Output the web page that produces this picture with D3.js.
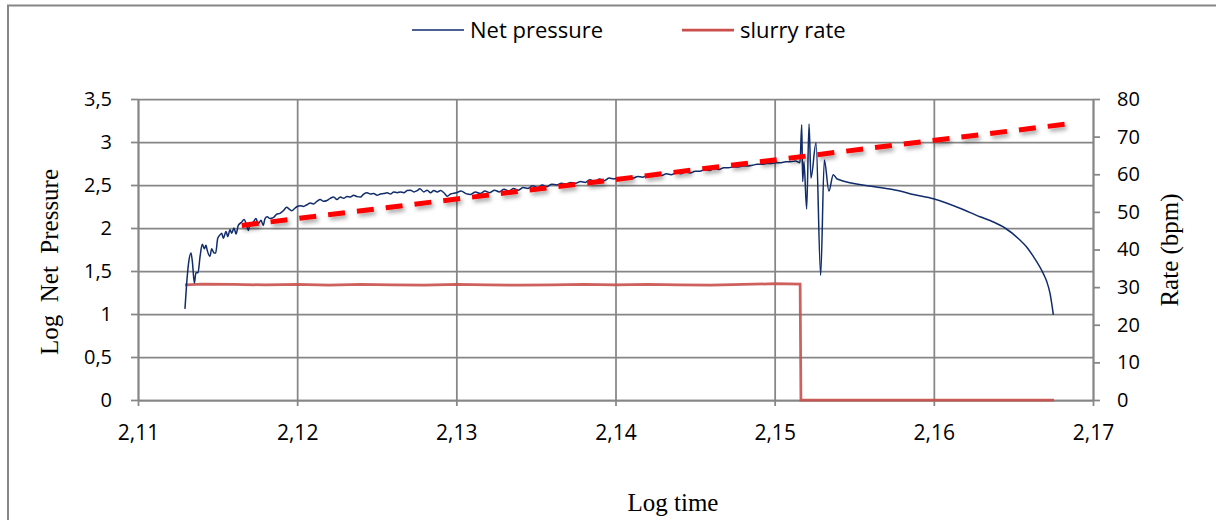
<!DOCTYPE html>
<html>
<head>
<meta charset="utf-8">
<script src="https://cdn.jsdelivr.net/npm/d3@7"></script>
<style>
  body { margin: 0; background: #fff; }
  svg { display: block; }
  .tick text { font-family: "Open Sans", Lato, sans-serif; fill: #000; }
</style>
</head>
<body>
<script>
// log time / log net pressure
var pressureTime = [
  2.11295, 2.11306, 2.11317, 2.11333, 2.11342, 2.11354, 2.11364, 2.11377, 2.11390, 2.11404,
  2.11417, 2.11427, 2.11435, 2.11452, 2.11463, 2.11477, 2.11488, 2.11501, 2.11515, 2.11526,
  2.11536, 2.11553, 2.11564, 2.11578, 2.11589, 2.11603, 2.11616, 2.11630, 2.11652, 2.11666,
  2.11683, 2.11693, 2.11704, 2.11725, 2.11741, 2.11756, 2.11773, 2.11787, 2.11798, 2.11812,
  2.11829, 2.11850, 2.11871, 2.11892, 2.11913, 2.11934, 2.11950, 2.11966, 2.11986, 2.12000,
  2.12019, 2.12040, 2.12061, 2.12082, 2.12103, 2.12124, 2.12145, 2.12166, 2.12187, 2.12208,
  2.12229, 2.12250, 2.12271, 2.12292, 2.12313, 2.12334, 2.12355, 2.12376, 2.12397, 2.12418,
  2.12439, 2.12460, 2.12481, 2.12502, 2.12523, 2.12544, 2.12565, 2.12586, 2.12607, 2.12628,
  2.12649, 2.12670, 2.12691, 2.12712, 2.12733, 2.12754, 2.12771, 2.12796, 2.12817, 2.12838,
  2.12859, 2.12880, 2.12901, 2.12922, 2.12943, 2.12964,
  2.1300, 2.1303, 2.1306, 2.1309, 2.1312, 2.1315, 2.1318, 2.1321, 2.1324, 2.1327,
  2.1330, 2.1333, 2.1336, 2.1339, 2.1342, 2.1345, 2.1348, 2.1351, 2.1354, 2.1357,
  2.1360, 2.1363, 2.1366, 2.1369, 2.1372, 2.1375, 2.1378, 2.1381, 2.1384, 2.1387,
  2.1390, 2.1393, 2.1396, 2.1399, 2.1402, 2.1405, 2.1408, 2.1411, 2.1414, 2.1417,
  2.1420, 2.1423, 2.1426, 2.1429, 2.1432, 2.1435, 2.1438, 2.1441, 2.1444, 2.1447,
  2.1450, 2.1453, 2.1456, 2.1459, 2.1462, 2.1465, 2.1468, 2.1471, 2.1474, 2.1477,
  2.1480, 2.1483, 2.1486, 2.1489, 2.1492, 2.1495, 2.1498, 2.1501, 2.1504, 2.1507,
  2.1510, 2.1513,
  2.15159, 2.15170, 2.15176, 2.15184, 2.15201, 2.15216, 2.15228, 2.15260, 2.15289, 2.15312,
  2.15341, 2.15368, 2.15393,
  2.15662, 2.15787, 2.15871, 2.15997, 2.16164, 2.16290, 2.16374, 2.16447, 2.16541, 2.16583,
  2.16625, 2.16688, 2.16709, 2.16730, 2.16751
];
var pressureValue = [
  1.06, 1.36, 1.58, 1.71, 1.60, 1.36, 1.48, 1.48, 1.67, 1.81,
  1.76, 1.80, 1.74, 1.67, 1.76, 1.71, 1.71, 1.88, 1.92, 1.94,
  1.88, 1.96, 1.90, 1.98, 1.94, 2.00, 1.93, 2.03, 2.07, 2.10,
  2.03, 1.97, 2.05, 2.07, 2.11, 2.05, 2.09, 2.03, 2.11, 2.13,
  2.11, 2.12, 2.16, 2.17, 2.20, 2.24, 2.22, 2.20, 2.23, 2.25,
  2.26, 2.25, 2.27, 2.29, 2.28, 2.31, 2.33, 2.31, 2.32, 2.345,
  2.36, 2.33, 2.36, 2.345, 2.365, 2.36, 2.38, 2.365, 2.36, 2.395,
  2.41, 2.395, 2.40, 2.38, 2.395, 2.40, 2.41, 2.395, 2.42, 2.41,
  2.42, 2.41, 2.435, 2.44, 2.42, 2.435, 2.455, 2.42, 2.44, 2.41,
  2.435, 2.42, 2.435, 2.41, 2.37, 2.395,
  2.41, 2.43, 2.40, 2.39, 2.42, 2.40, 2.43, 2.41, 2.44, 2.42,
  2.45, 2.43, 2.46, 2.44, 2.47, 2.46, 2.49, 2.47, 2.50, 2.48,
  2.51, 2.50, 2.52, 2.51, 2.53, 2.52, 2.54, 2.53, 2.56, 2.54,
  2.57, 2.55, 2.58, 2.57, 2.58, 2.57, 2.59, 2.58, 2.60, 2.59,
  2.61, 2.60, 2.62, 2.61, 2.63, 2.62, 2.64, 2.63, 2.65, 2.64,
  2.66, 2.66, 2.68, 2.67, 2.69, 2.68, 2.70, 2.70, 2.71, 2.71,
  2.72, 2.72, 2.73, 2.74, 2.74, 2.75, 2.75, 2.76, 2.76, 2.77,
  2.77, 2.78,
  2.76, 3.20, 2.54, 2.77, 2.22, 3.21, 2.58, 2.99, 1.45, 2.79,
  2.43, 2.62, 2.57,
  2.47, 2.43, 2.39, 2.34, 2.23, 2.13, 2.07, 2.00, 1.86, 1.78,
  1.67, 1.47, 1.38, 1.24, 0.99
];

// slurry rate (bpm)
var rateTime = [2.11295, 2.1140, 2.1160, 2.1180, 2.1200, 2.1220, 2.1240, 2.1260, 2.1280, 2.1300,
  2.1320, 2.1340, 2.1360, 2.1380, 2.1400, 2.1420, 2.1440, 2.1460, 2.1480, 2.1500,
  2.15160, 2.15165, 2.1600, 2.16755];
var rateValue = [30.6, 30.8, 30.7, 30.6, 30.7, 30.5, 30.7, 30.6, 30.5, 30.7,
  30.6, 30.5, 30.6, 30.7, 30.6, 30.7, 30.6, 30.5, 30.7, 30.9,
  30.8, 0, 0, 0];

// dashed trend line
var trendTime = [2.11652, 2.16840];
var trendValue = [2.03, 3.21];

var xTicks = [2.11, 2.12, 2.13, 2.14, 2.15, 2.16, 2.17];
var yTicks = [0, 0.5, 1, 1.5, 2, 2.5, 3, 3.5];
var rateTicks = [0, 10, 20, 30, 40, 50, 60, 70, 80];

var W = 1216, H = 520;
var pLeft = 138, pRight = 1093, pTop = 99, pBottom = 400;
var gridColor = "#868686";

var locale = d3.formatLocale({ decimal: ",", thousands: ".", grouping: [3], currency: ["", ""] });
var fmtX = locale.format(".2f");
var fmtY = locale.format("~f");

var x = d3.scaleLinear().domain([2.11, 2.17]).range([pLeft, pRight]);
var y = d3.scaleLinear().domain([0, 3.5]).range([pBottom, pTop]);
var y2 = d3.scaleLinear().domain([0, 80]).range([pBottom, pTop]);

var svg = d3.select("body").append("svg")
  .attr("width", W)
  .attr("height", H);

var defs = svg.append("defs");
var shadow = defs.append("filter").attr("id", "shadow")
  .attr("x", "-10%").attr("y", "-50%").attr("width", "120%").attr("height", "200%");
shadow.append("feDropShadow")
  .attr("dx", 2).attr("dy", 3).attr("stdDeviation", 2)
  .attr("flood-color", "#000").attr("flood-opacity", 0.35);

// outer frame
svg.append("rect")
  .attr("x", 8).attr("y", 5.5)
  .attr("width", W).attr("height", H)
  .attr("fill", "none")
  .attr("stroke", gridColor)
  .attr("stroke-width", 2);

// gridlines
svg.append("g")
  .attr("transform", "translate(" + pLeft + ",0)")
  .call(d3.axisLeft(y).tickValues(yTicks).tickSize(-(pRight - pLeft)).tickFormat(""))
  .call(function (g) { g.select(".domain").remove(); })
  .selectAll("line").attr("stroke", gridColor).attr("stroke-width", 1.75);

svg.append("g")
  .attr("transform", "translate(0," + pBottom + ")")
  .call(d3.axisBottom(x).tickValues(xTicks).tickSize(-(pBottom - pTop)).tickFormat(""))
  .call(function (g) { g.select(".domain").remove(); })
  .selectAll("line").attr("stroke", gridColor).attr("stroke-width", 1.75);

// axes
var xAxis = svg.append("g")
  .attr("transform", "translate(0," + pBottom + ")")
  .call(d3.axisBottom(x).tickValues(xTicks).tickSize(6).tickSizeOuter(0).tickPadding(19).tickFormat(fmtX));
xAxis.selectAll("text").style("font-size", "21px");

var yAxis = svg.append("g")
  .attr("transform", "translate(" + pLeft + ",0)")
  .call(d3.axisLeft(y).tickValues(yTicks).tickSize(7).tickSizeOuter(0).tickPadding(19).tickFormat(fmtY));
yAxis.selectAll("text").style("font-size", "20px");

var rAxis = svg.append("g")
  .attr("transform", "translate(" + pRight + ",0)")
  .call(d3.axisRight(y2).tickValues(rateTicks).tickSize(7).tickSizeOuter(0).tickPadding(17));
rAxis.selectAll("text").style("font-size", "20px");

[xAxis, yAxis, rAxis].forEach(function (g) {
  g.select(".domain").attr("stroke", gridColor).attr("stroke-width", 1.75);
  g.selectAll(".tick line").attr("stroke", gridColor).attr("stroke-width", 1.75);
});

// axis titles
svg.append("text")
  .attr("transform", "translate(58,262) rotate(-90)")
  .attr("text-anchor", "middle")
  .style("font-family", "'Liberation Serif', 'Times New Roman', serif")
  .style("font-size", "25px")
  .style("white-space", "pre")
  .text("Log  Net  Pressure");

svg.append("text")
  .attr("transform", "translate(1178,250) rotate(-90)")
  .attr("text-anchor", "middle")
  .style("font-family", "'Liberation Serif', 'Times New Roman', serif")
  .style("font-size", "25px")
  .text("Rate (bpm)");

svg.append("text")
  .attr("x", 673).attr("y", 511)
  .attr("text-anchor", "middle")
  .style("font-family", "'Liberation Serif', 'Times New Roman', serif")
  .style("font-size", "25px")
  .text("Log time");

// series
var rateLine = d3.line()
  .x(function (d, i) { return x(rateTime[i]); })
  .y(function (d) { return y2(d); });

svg.append("path")
  .datum(rateValue)
  .attr("d", rateLine)
  .attr("fill", "none")
  .attr("stroke", "#c9504d")
  .attr("stroke-width", 2.75)
  .attr("stroke-opacity", 0.9);

var pressureLine = d3.line()
  .x(function (d, i) { return x(pressureTime[i]); })
  .y(function (d) { return y(d); })
  .curve(d3.curveMonotoneX);

svg.append("path")
  .datum(pressureValue)
  .attr("d", pressureLine)
  .attr("fill", "none")
  .attr("stroke", "#102c6c")
  .attr("stroke-width", 1.5);

var trendLine = d3.line()
  .x(function (d, i) { return x(trendTime[i]); })
  .y(function (d) { return y(d); });

svg.append("path")
  .datum(trendValue)
  .attr("d", trendLine)
  .attr("fill", "none")
  .attr("stroke", "#ff0000")
  .attr("stroke-width", 5)
  .attr("stroke-dasharray", "17,12")
  .attr("filter", "url(#shadow)");

// legend
var legend = [
  { name: "Net pressure", color: "#102c6c", width: 1.5, x: 412 },
  { name: "slurry rate", color: "#c9504d", width: 2.75, x: 682 }
];
var lg = svg.append("g").attr("class", "legend");
lg.selectAll("line")
  .data(legend)
  .enter()
  .append("line")
  .attr("x1", function (d) { return d.x; })
  .attr("x2", function (d) { return d.x + 52; })
  .attr("y1", 30).attr("y2", 30)
  .attr("stroke", function (d) { return d.color; })
  .attr("stroke-width", function (d) { return d.width; });
lg.selectAll("text")
  .data(legend)
  .enter()
  .append("text")
  .attr("x", function (d) { return d.x + 58; })
  .attr("y", 38)
  .style("font-family", "'Open Sans', Lato, sans-serif")
  .style("font-size", "22px")
  .text(function (d) { return d.name; });
</script>
</body>
</html>
